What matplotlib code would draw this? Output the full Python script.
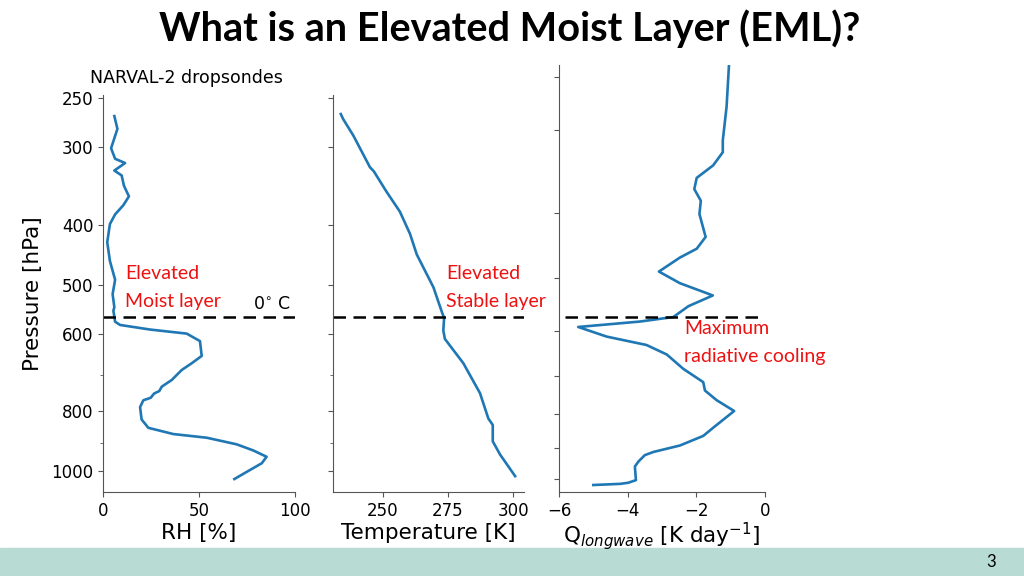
import matplotlib.pyplot as plt
from matplotlib.patches import Rectangle

# RH profile (NARVAL-2 dropsonde)
rh_p = [267, 280, 301, 313, 318, 327, 333, 346, 360, 372, 385, 399, 427, 458,
        491, 518, 544, 551, 574, 581, 591, 600, 617, 652, 670, 687, 713, 731,
        743, 750, 762, 769, 789, 826, 852, 872, 884, 906, 927, 949, 972, 1004,
        1031]
rh = [5.9, 7.5, 4.2, 6.3, 11.5, 5.9, 9.7, 10.9, 13.5, 10.6, 6.3, 3.6, 2.2, 3.6,
      6.3, 5.0, 5.9, 5.4, 6.3, 8.9, 24.5, 43.6, 50.5, 51.4, 46.2, 41.0, 35.8,
      30.6, 29.3, 26.6, 24.8, 21.0, 19.3, 20.1, 23.6, 36.6, 54.0, 69.6, 78.3,
      85.2, 82.7, 74.8, 68.4]

# temperature profile
t_p = [265, 270, 287, 323, 328, 354, 381, 414, 447, 505, 553, 566, 593, 612,
       670, 749, 823, 843, 896, 941, 1020]
temp = [233.8, 234.7, 238.6, 245.0, 246.5, 251.4, 256.5, 260.4, 263.0, 269.4,
        272.6, 273.5, 273.2, 273.8, 280.9, 287.3, 290.5, 292.2, 292.2, 295.0,
        300.8]

# longwave heating rate
q_p = [240, 277, 311, 324, 339, 354, 368, 383, 401, 434, 452, 466, 489, 509,
       531, 551, 572, 581, 592, 612, 630, 651, 684, 716, 737, 762, 791, 838,
       862, 891, 911, 921, 942, 958, 1004, 1013, 1017, 1021]
q_lw = [-1.05, -1.12, -1.23, -1.23, -1.51, -1.99, -2.06, -1.87, -1.91, -1.73,
        -1.99, -2.48, -3.09, -2.48, -1.52, -2.23, -2.67, -3.64, -5.44, -4.61,
        -3.45, -2.86, -2.38, -1.80, -1.75, -1.41, -0.90, -1.51, -1.80, -2.48,
        -3.25, -3.50, -3.69, -3.79, -3.76, -3.98, -4.22, -5.00]

p_freeze = 563
p_labels = [250, 300, 400, 500, 600, 800, 1000]
p_minor = [700, 900]
p_ticks3 = [250, 300, 400, 500, 600, 700, 800, 900, 1000]

blue = '#1f77b4'
red = '#ee1111'
spine_c = '#555555'
tick_fs = 12
lab_fs = 15.5
note_fs = 14


def style(ax):
    for s in ['top', 'right']:
        ax.spines[s].set_visible(False)
    for s in ['left', 'bottom']:
        ax.spines[s].set_color(spine_c)
    ax.tick_params(colors=spine_c, labelcolor='black', labelsize=tick_fs)
    ax.tick_params(which='minor', colors=spine_c)


fig = plt.figure(figsize=(10.24, 5.76), dpi=100)

ax1 = fig.add_axes([0.1006, 0.1458, 0.1875, 0.689])
ax2 = fig.add_axes([0.3252, 0.1458, 0.1865, 0.689], sharey=ax1)
ax3 = fig.add_axes([0.5459, 0.1458, 0.2012, 0.741])

# RH panel
ax1.plot(rh, rh_p, color=blue, lw=1.9)
ax1.set_yscale('log')
ax1.set_ylim(1082, 247)
ax1.set_yticks(p_labels)
ax1.set_yticklabels([str(p) for p in p_labels])
ax1.set_yticks(p_minor, minor=True)
ax1.set_yticklabels([], minor=True)
ax1.set_xlim(0, 100)
ax1.set_xticks([0, 50, 100])
ax1.axhline(p_freeze, color='black', ls='--', lw=1.8, dashes=(5, 3))
ax1.set_xlabel('RH [%]', fontsize=lab_fs, labelpad=2)
ax1.set_ylabel('Pressure [hPa]', fontsize=lab_fs, labelpad=6)
ax1.set_title('NARVAL-2 dropsondes', fontsize=12.5, loc='left', x=-0.07, pad=9)
ax1.text(98, 548, r'0$^{\circ}$ C', fontsize=12.5, ha='right', va='baseline')
ax1.text(11.5, 464, 'Elevated\nMoist layer', color=red, fontsize=note_fs,
         family='Lato', va='top', linespacing=1.8)
style(ax1)

# temperature panel
ax2.plot(temp, t_p, color=blue, lw=1.9)
ax2.set_xlim(230.8, 304.2)
ax2.set_xticks([250, 275, 300])
ax2.tick_params(labelleft=False)
ax2.axhline(p_freeze, color='black', ls='--', lw=1.8, dashes=(5, 3))
ax2.set_xlabel('Temperature [K]', fontsize=lab_fs, labelpad=2)
ax2.text(274.2, 464, 'Elevated\nStable layer', color=red, fontsize=note_fs,
         family='Lato', va='top', linespacing=1.8)
style(ax2)

# longwave heating panel
ax3.plot(q_lw, q_p, color=blue, lw=1.9)
ax3.set_yscale('log')
ax3.set_ylim(1046, 240)
ax3.set_yticks(p_ticks3)
ax3.set_yticklabels([])
ax3.minorticks_off()
ax3.set_xlim(-6, 0)
ax3.set_xticks([-6, -4, -2, 0])
ax3.axhline(571, xmin=0.03, xmax=0.985, color='black', lw=1.8, dashes=(5, 3))
ax3.set_xlabel(r'Q$_{longwave}$ [K day$^{-1}$]', fontsize=lab_fs, labelpad=0)
ax3.text(-2.36, 578, 'Maximum\nradiative cooling', color=red, fontsize=note_fs,
         family='Lato', va='top', linespacing=1.8)
style(ax3)

# slide decoration
fig.text(0.498, 0.951, 'What is an Elevated Moist Layer (EML)?', ha='center',
         va='center', fontsize=28.5, fontweight='bold', family='Lato')
fig.patches.append(Rectangle((0, 0), 1, 28 / 576, transform=fig.transFigure,
                             color='#b8dbd3', zorder=-1))
fig.text(0.968, 0.024, '3', ha='center', va='center', fontsize=12,
         family='Lato')

fig.savefig('out.png', dpi=100)
